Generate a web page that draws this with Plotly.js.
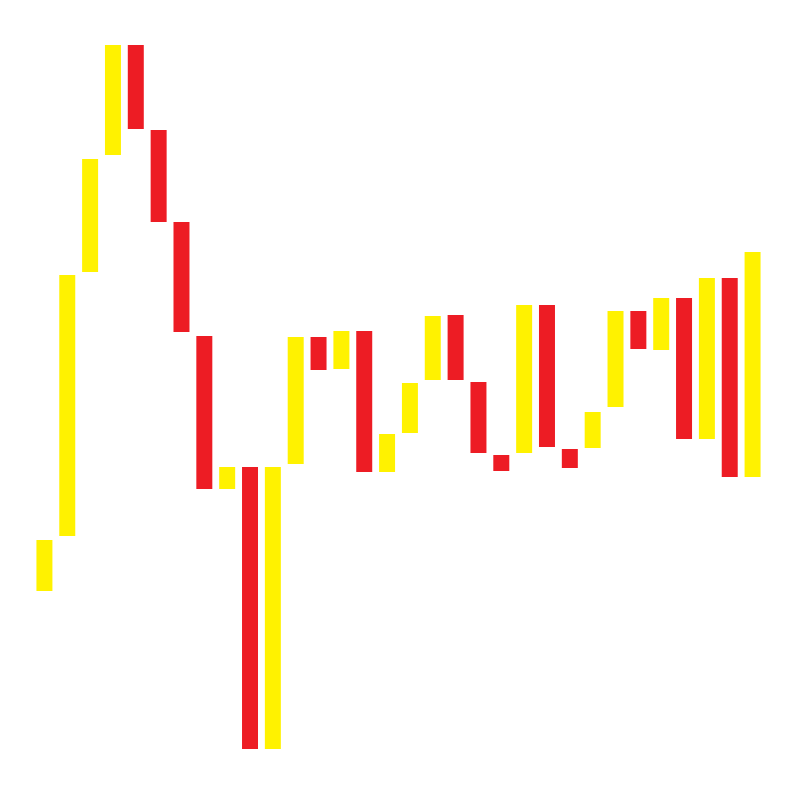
<!DOCTYPE html>
<html>
<head>
<meta charset="utf-8">
<script src="https://cdn.plot.ly/plotly-3.0.1.min.js"></script>
<style>html,body{margin:0;padding:0;background:#fff;}#chart{width:800px;height:800px;}</style>
</head>
<body>
<div id="chart"></div>
<script>
const periods = [1,2,3,4,5,6,7,8,9,10,11,12,13,14,15,16,17,18,19,20,21,22,23,24,25,26,27,28,29,30,31,32];
const openVals  = [16.9,22.4,48.8,60.5,71.5,63.0,53.8,42.4,27.1,29.3,1.1,29.6,42.3,39.1,42.9,28.8,32.7,38.0,44.5,37.8,30.5,30.7,45.5,31.1,31.2,35.3,44.9,41.0,46.2,32.1,48.2,28.3];
const closeVals = [22.0,48.5,60.1,71.5,63.1,53.8,42.8,27.1,29.3,1.1,29.3,42.3,39.0,42.9,28.8,32.6,37.7,44.4,38.0,30.7,28.9,45.5,31.3,29.2,34.8,44.9,41.1,46.2,32.1,48.2,28.3,50.8];
const upColor = '#FFF200';
const downColor = '#ED1C24';

const deltas = closeVals.map((c, i) => c - openVals[i]);
const colors = deltas.map(d => d >= 0 ? upColor : downColor);

Plotly.newPlot('chart', [{
  type: 'bar',
  x: periods,
  y: deltas,
  base: openVals,
  marker: {color: colors, line: {width: 0}},
  hoverinfo: 'skip'
}], {
  width: 800, height: 800,
  margin: {l: 33, r: 36, t: 40, b: 40},
  paper_bgcolor: '#ffffff', plot_bgcolor: '#ffffff',
  bargap: 0.3,
  showlegend: false,
  xaxis: {visible: false, range: [0.5, 32.5]},
  yaxis: {visible: false, range: [0, 72]}
}, {displayModeBar: false, staticPlot: true});
</script>
</body>
</html>
